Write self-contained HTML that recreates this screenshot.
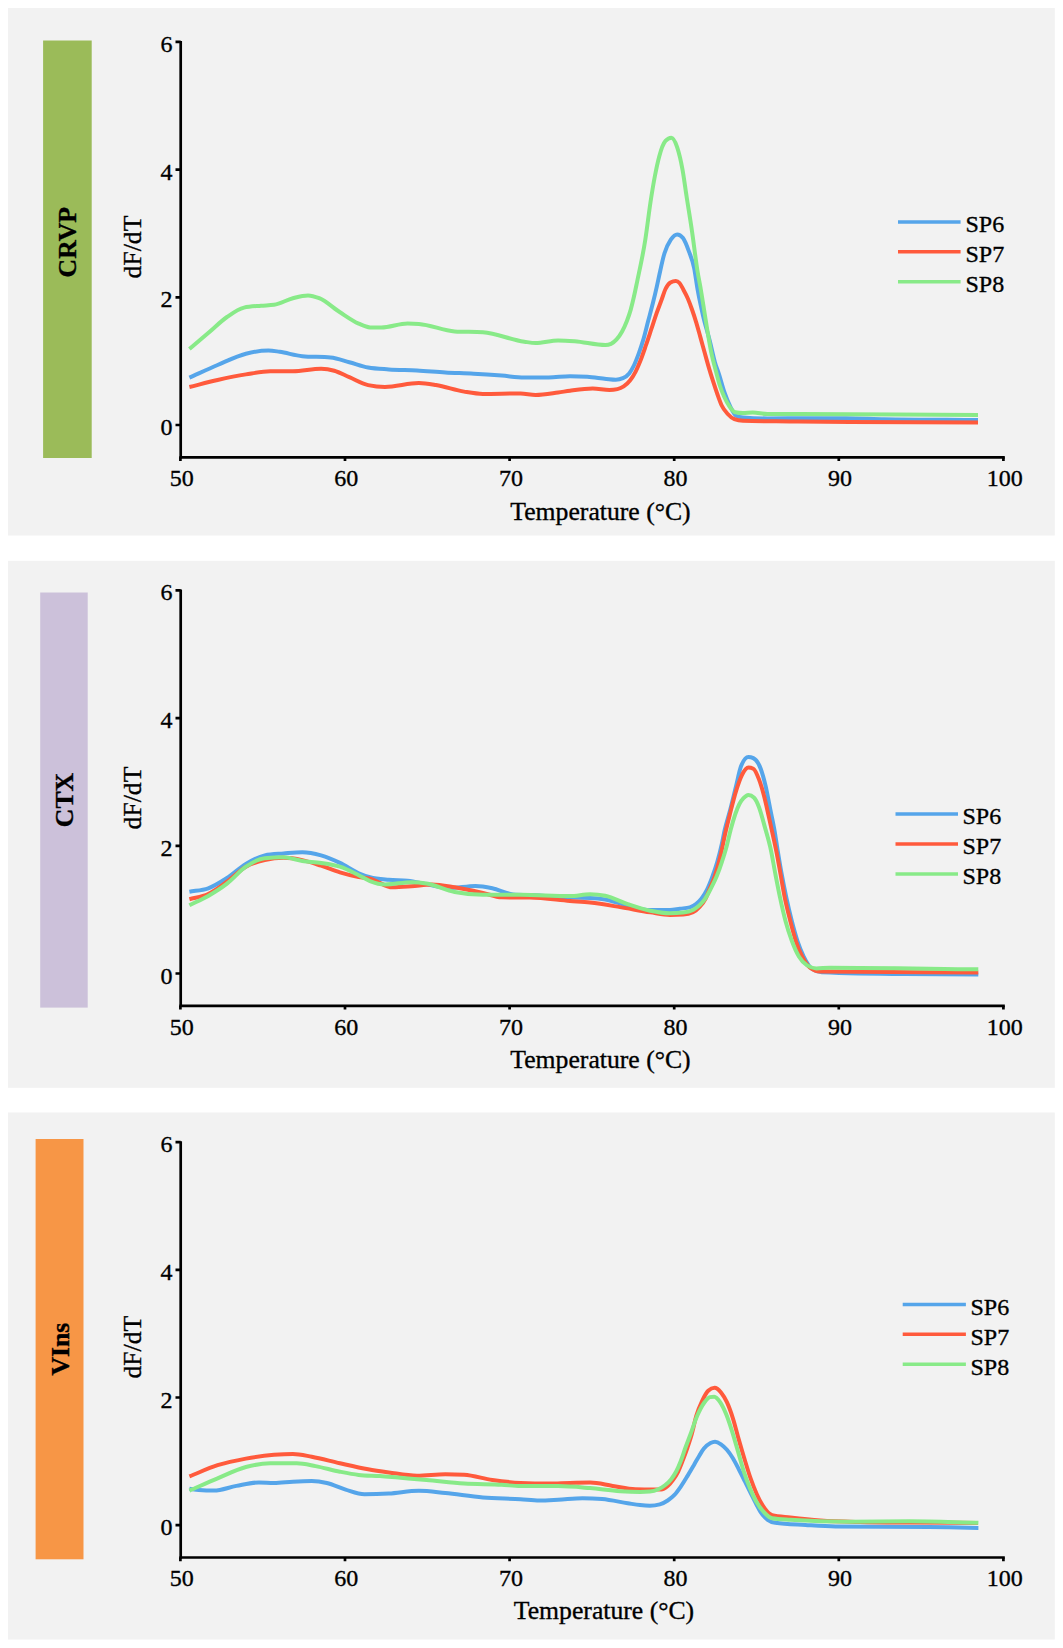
<!DOCTYPE html>
<html><head><meta charset="utf-8"><style>
html,body{margin:0;padding:0;background:#fff;width:1063px;height:1648px;overflow:hidden}
svg{display:block}
text{stroke:#000;stroke-width:0.35px}
</style></head><body>
<svg width="1063" height="1648" viewBox="0 0 1063 1648" font-family="&quot;Liberation Serif&quot;, serif" fill="#000" stroke-width="0">
<rect x="8" y="8" width="1046.8" height="527.5" fill="#F2F2F2"/>
<rect x="43.1" y="40.5" width="48.6" height="417.5" fill="#9BBB59"/>
<text transform="translate(76.4 242.2) rotate(-90)" text-anchor="middle" font-weight="bold" font-size="25.7">CRVP</text>
<path d="M180.7 41.0 V458.6" stroke="#000" stroke-width="2.7" fill="none"/>
<path d="M179.4 457.3 H1004.8" stroke="#000" stroke-width="2.7" fill="none"/>
<text x="172.5" y="435.0" text-anchor="end" font-size="24">0</text>
<text x="172.5" y="307.3" text-anchor="end" font-size="24">2</text>
<text x="172.5" y="179.6" text-anchor="end" font-size="24">4</text>
<text x="172.5" y="51.9" text-anchor="end" font-size="24">6</text>
<text x="181.7" y="486.2" text-anchor="middle" font-size="24">50</text>
<text x="346.3" y="486.2" text-anchor="middle" font-size="24">60</text>
<text x="510.9" y="486.2" text-anchor="middle" font-size="24">70</text>
<text x="675.5" y="486.2" text-anchor="middle" font-size="24">80</text>
<text x="840.1" y="486.2" text-anchor="middle" font-size="24">90</text>
<text x="1004.7" y="486.2" text-anchor="middle" font-size="24">100</text>
<path d="M175.5 425.0 H180.7 M175.5 297.3 H180.7 M175.5 169.6 H180.7 M175.5 41.9 H180.7 M180.4 457.3 V461.0 M345.0 457.3 V461.0 M509.6 457.3 V461.0 M674.2 457.3 V461.0 M838.8 457.3 V461.0 M1003.4 457.3 V461.0 " stroke="#000" stroke-width="2.7" fill="none"/>
<text transform="translate(141 247.0) rotate(-90)" text-anchor="middle" font-size="25.7">dF/dT</text>
<text x="600.5" y="519.5" text-anchor="middle" font-size="25.7">Temperature (°C)</text>
<path d="M189.40 377.60 C198.80 373.40 208.20 368.98 217.60 365.00 C227.03 361.01 236.47 356.12 245.90 353.70 C253.40 351.78 260.90 350.50 268.40 350.50 C272.17 350.50 275.93 351.27 279.70 351.80 C287.23 352.87 294.77 355.51 302.30 356.20 C311.70 357.07 321.10 356.63 330.50 357.50 C336.77 358.08 343.03 360.53 349.30 362.20 C355.57 363.87 361.83 366.35 368.10 367.50 C375.00 368.77 381.90 368.92 388.80 369.40 C398.20 370.05 407.60 370.00 417.00 370.50 C426.43 371.00 435.87 371.87 445.30 372.40 C454.70 372.93 464.10 373.17 473.50 373.70 C482.90 374.23 492.30 374.88 501.70 375.60 C509.23 376.18 516.77 377.50 524.30 377.50 C532.43 377.50 540.57 377.50 548.70 377.50 C555.80 377.50 562.90 376.20 570.00 376.20 C575.77 376.20 581.53 376.37 587.30 376.70 C593.63 377.07 599.97 378.30 606.30 378.90 C609.47 379.20 612.63 379.70 615.80 379.70 C618.17 379.70 620.53 379.17 622.90 378.10 C625.00 377.15 627.10 376.09 629.20 373.40 C630.77 371.39 632.33 368.75 633.90 365.50 C635.50 362.18 637.10 358.00 638.70 353.60 C640.27 349.29 641.83 344.78 643.40 339.40 C644.97 334.02 646.53 327.29 648.10 321.30 C649.70 315.19 651.30 309.55 652.90 303.10 C654.20 297.86 655.50 292.41 656.80 286.60 C657.57 283.17 658.33 279.45 659.10 276.00 C660.87 268.05 662.63 259.33 664.40 253.50 C666.53 246.46 668.67 242.88 670.80 239.70 C672.93 236.52 675.07 234.40 677.20 234.40 C679.13 234.40 681.07 235.63 683.00 238.10 C684.97 240.61 686.93 245.98 688.90 251.40 C690.67 256.27 692.43 259.43 694.20 268.40 C695.30 273.99 696.40 282.72 697.50 289.00 C699.33 299.47 701.17 307.54 703.00 315.50 C705.27 325.34 707.53 331.97 709.80 341.00 C711.50 347.77 713.20 356.24 714.90 362.20 C716.33 367.22 717.77 370.42 719.20 374.90 C720.90 380.22 722.60 386.94 724.30 391.90 C726.27 397.64 728.23 402.33 730.20 406.30 C732.17 410.27 734.13 414.73 736.10 415.70 C738.40 416.83 740.70 417.21 743.00 417.40 C751.13 418.07 759.27 418.40 767.40 418.40 C781.20 418.40 795.00 418.20 808.80 418.20 C821.33 418.20 833.87 418.20 846.40 418.20 C858.93 418.20 871.47 418.96 884.00 419.20 C915.33 419.80 946.67 419.80 978.00 420.10" stroke="#55A5EA" stroke-width="4.0" fill="none" stroke-linejoin="round"/>
<path d="M189.40 387.00 C198.80 384.67 208.20 382.10 217.60 380.00 C227.03 377.90 236.47 375.93 245.90 374.40 C254.03 373.08 262.17 371.20 270.30 371.20 C277.83 371.20 285.37 371.20 292.90 371.20 C302.30 371.20 311.70 368.80 321.10 368.80 C325.50 368.80 329.90 369.47 334.30 370.70 C339.30 372.10 344.30 375.06 349.30 377.20 C355.57 379.88 361.83 383.77 368.10 385.10 C373.73 386.30 379.37 386.90 385.00 386.90 C396.30 386.90 407.60 383.10 418.90 383.10 C424.57 383.10 430.23 384.11 435.90 385.00 C445.30 386.48 454.70 390.03 464.10 391.60 C470.37 392.65 476.63 393.90 482.90 393.90 C495.43 393.90 507.97 393.50 520.50 393.50 C525.53 393.50 530.57 395.00 535.60 395.00 C543.10 395.00 550.60 393.53 558.10 392.50 C562.07 391.96 566.03 391.23 570.00 390.70 C577.60 389.69 585.20 388.50 592.80 388.50 C598.37 388.50 603.93 389.90 609.50 389.90 C612.13 389.90 614.77 389.63 617.40 389.10 C619.50 388.67 621.60 387.83 623.70 386.40 C625.80 384.97 627.90 383.19 630.00 380.50 C631.83 378.15 633.67 375.35 635.50 371.80 C637.33 368.25 639.17 363.91 641.00 359.20 C642.60 355.09 644.20 350.34 645.80 345.70 C647.63 340.38 649.47 334.72 651.30 329.20 C653.13 323.68 654.97 317.80 656.80 312.60 C658.37 308.16 659.93 304.26 661.50 300.00 C662.83 296.38 664.17 291.82 665.50 289.00 C667.17 285.48 668.83 283.34 670.50 282.40 C672.27 281.40 674.03 280.90 675.80 280.90 C677.03 280.90 678.27 281.60 679.50 283.00 C680.77 284.43 682.03 287.18 683.30 289.50 C684.77 292.19 686.23 294.82 687.70 298.20 C689.13 301.51 690.57 305.43 692.00 309.50 C693.40 313.48 694.80 317.68 696.20 322.30 C697.63 327.03 699.07 332.46 700.50 337.60 C701.90 342.62 703.30 347.78 704.70 352.80 C706.13 357.94 707.57 363.23 709.00 368.10 C710.40 372.85 711.80 377.35 713.20 381.70 C714.63 386.16 716.07 390.49 717.50 394.50 C718.90 398.41 720.30 402.53 721.70 405.50 C723.70 409.75 725.70 411.79 727.70 414.00 C729.93 416.47 732.17 418.22 734.40 419.10 C737.27 420.23 740.13 420.73 743.00 420.80 C758.67 421.20 774.33 421.22 790.00 421.40 C810.00 421.63 830.00 421.88 850.00 422.00 C892.67 422.27 935.33 422.27 978.00 422.40" stroke="#FF5A3C" stroke-width="4.0" fill="none" stroke-linejoin="round"/>
<path d="M189.40 349.00 C195.67 343.67 201.93 338.33 208.20 333.00 C214.47 327.67 220.73 321.35 227.00 317.00 C232.67 313.06 238.33 308.87 244.00 307.60 C249.67 306.33 255.33 306.20 261.00 305.70 C265.33 305.32 269.67 305.40 274.00 304.80 C280.30 303.93 286.60 299.83 292.90 298.20 C297.93 296.90 302.97 295.40 308.00 295.40 C311.73 295.40 315.47 296.71 319.20 298.20 C326.13 300.97 333.07 307.87 340.00 312.30 C346.23 316.28 352.47 320.87 358.70 323.60 C362.47 325.25 366.23 327.27 370.00 327.40 C373.77 327.53 377.53 327.60 381.30 327.60 C390.07 327.60 398.83 323.50 407.60 323.50 C411.37 323.50 415.13 323.63 418.90 323.90 C430.83 324.74 442.77 330.64 454.70 331.40 C464.10 332.00 473.50 331.70 482.90 332.30 C496.70 333.18 510.50 339.78 524.30 341.70 C528.07 342.22 531.83 343.00 535.60 343.00 C543.10 343.00 550.60 340.40 558.10 340.40 C563.60 340.40 569.10 340.79 574.60 341.20 C584.90 341.97 595.20 345.00 605.50 345.00 C607.33 345.00 609.17 344.60 611.00 343.80 C612.87 342.99 614.73 341.48 616.60 339.40 C618.43 337.36 620.27 334.86 622.10 331.50 C623.67 328.63 625.23 325.38 626.80 321.30 C628.13 317.83 629.47 314.19 630.80 309.40 C631.83 305.69 632.87 301.32 633.90 296.80 C634.97 292.14 636.03 286.93 637.10 281.80 C639.83 268.64 642.57 257.18 645.30 239.70 C647.07 228.40 648.83 212.99 650.60 201.50 C652.03 192.18 653.47 183.50 654.90 176.00 C656.30 168.68 657.70 162.13 659.10 156.90 C661.23 148.93 663.37 143.25 665.50 140.90 C667.43 138.77 669.37 137.70 671.30 137.70 C673.27 137.70 675.23 141.43 677.20 147.30 C678.97 152.58 680.73 159.84 682.50 169.60 C683.90 177.34 685.30 188.10 686.70 197.20 C688.47 208.69 690.23 219.11 692.00 231.20 C693.80 243.52 695.60 259.26 697.40 270.50 C698.57 277.78 699.73 283.11 700.90 290.00 C702.03 296.70 703.17 304.12 704.30 311.20 C705.43 318.28 706.57 325.77 707.70 332.50 C708.97 340.03 710.23 347.60 711.50 353.70 C712.93 360.60 714.37 365.26 715.80 370.70 C717.20 376.01 718.60 381.65 720.00 386.00 C721.43 390.45 722.87 393.81 724.30 397.00 C726.00 400.78 727.70 403.84 729.40 406.30 C731.37 409.15 733.33 411.89 735.30 412.30 C737.87 412.83 740.43 413.10 743.00 413.10 C746.27 413.10 749.53 412.60 752.80 412.60 C757.67 412.60 762.53 414.10 767.40 414.10 C778.27 414.10 789.13 414.10 800.00 414.10 C859.33 414.10 918.67 414.70 978.00 415.00" stroke="#88EA88" stroke-width="4.0" fill="none" stroke-linejoin="round"/>
<path d="M898.0 221.9 H960.6" stroke="#55A5EA" stroke-width="3.5"/>
<text x="965.5" y="232.2" font-size="24">SP6</text>
<path d="M898.0 251.8 H960.6" stroke="#FF5A3C" stroke-width="3.5"/>
<text x="965.5" y="262.1" font-size="24">SP7</text>
<path d="M898.0 281.7 H960.6" stroke="#88EA88" stroke-width="3.5"/>
<text x="965.5" y="292.0" font-size="24">SP8</text>
<rect x="8" y="560.8" width="1046.8" height="527" fill="#F2F2F2"/>
<rect x="40.2" y="592.5" width="47.5" height="415.1" fill="#CCC1DA"/>
<text transform="translate(73.0 800.0) rotate(-90)" text-anchor="middle" font-weight="bold" font-size="25.7">CTX</text>
<path d="M180.7 589.5 V1007.1" stroke="#000" stroke-width="2.7" fill="none"/>
<path d="M179.4 1005.8 H1004.8" stroke="#000" stroke-width="2.7" fill="none"/>
<text x="172.5" y="983.5" text-anchor="end" font-size="24">0</text>
<text x="172.5" y="855.8" text-anchor="end" font-size="24">2</text>
<text x="172.5" y="728.1" text-anchor="end" font-size="24">4</text>
<text x="172.5" y="600.4" text-anchor="end" font-size="24">6</text>
<text x="181.7" y="1034.7" text-anchor="middle" font-size="24">50</text>
<text x="346.3" y="1034.7" text-anchor="middle" font-size="24">60</text>
<text x="510.9" y="1034.7" text-anchor="middle" font-size="24">70</text>
<text x="675.5" y="1034.7" text-anchor="middle" font-size="24">80</text>
<text x="840.1" y="1034.7" text-anchor="middle" font-size="24">90</text>
<text x="1004.7" y="1034.7" text-anchor="middle" font-size="24">100</text>
<path d="M175.5 973.5 H180.7 M175.5 845.8 H180.7 M175.5 718.1 H180.7 M175.5 590.4 H180.7 M180.4 1005.8 V1009.5 M345.0 1005.8 V1009.5 M509.6 1005.8 V1009.5 M674.2 1005.8 V1009.5 M838.8 1005.8 V1009.5 M1003.4 1005.8 V1009.5 " stroke="#000" stroke-width="2.7" fill="none"/>
<text transform="translate(141 798.0) rotate(-90)" text-anchor="middle" font-size="25.7">dF/dT</text>
<text x="600.5" y="1068.0" text-anchor="middle" font-size="25.7">Temperature (°C)</text>
<path d="M189.40 891.70 C195.67 890.57 201.93 890.57 208.20 888.30 C214.47 886.03 220.73 882.05 227.00 878.00 C233.30 873.93 239.60 867.67 245.90 863.90 C252.17 860.15 258.43 856.67 264.70 855.40 C270.97 854.13 277.23 854.03 283.50 853.50 C289.77 852.97 296.03 852.20 302.30 852.20 C308.57 852.20 314.83 853.62 321.10 855.40 C327.37 857.18 333.63 859.92 339.90 862.90 C346.17 865.88 352.43 870.61 358.70 873.30 C362.47 874.92 366.23 876.30 370.00 877.30 C376.27 878.97 382.53 879.23 388.80 879.80 C395.07 880.37 401.33 880.10 407.60 880.70 C413.87 881.30 420.13 882.97 426.40 884.10 C433.93 885.46 441.47 888.20 449.00 888.20 C457.80 888.20 466.60 886.00 475.40 886.00 C481.03 886.00 486.67 887.04 492.30 888.20 C499.20 889.62 506.10 893.88 513.00 894.40 C521.77 895.07 530.53 894.93 539.30 895.40 C549.53 895.95 559.77 897.19 570.00 897.60 C576.70 897.87 583.40 897.73 590.10 898.00 C595.13 898.20 600.17 898.65 605.20 899.50 C612.70 900.76 620.20 903.84 627.70 905.60 C635.23 907.37 642.77 910.10 650.30 910.10 C656.87 910.10 663.43 910.07 670.00 910.00 C673.30 909.97 676.60 909.13 679.90 908.70 C683.20 908.27 686.50 908.27 689.80 907.40 C691.97 906.83 694.13 905.53 696.30 903.80 C698.07 902.39 699.83 900.82 701.60 898.50 C703.37 896.18 705.13 893.46 706.90 889.90 C708.63 886.40 710.37 882.06 712.10 877.40 C713.87 872.65 715.63 867.83 717.40 861.60 C718.93 856.19 720.47 850.19 722.00 843.20 C722.90 839.10 723.80 834.00 724.70 830.00 C726.33 822.73 727.97 818.32 729.60 812.10 C731.77 803.85 733.93 794.71 736.10 786.00 C737.73 779.44 739.37 770.45 741.00 766.30 C743.47 760.03 745.93 756.90 748.40 756.90 C750.03 756.90 751.67 757.30 753.30 758.10 C755.77 759.31 758.23 762.05 760.70 768.70 C762.33 773.10 763.97 779.03 765.60 786.00 C767.23 792.97 768.87 802.33 770.50 810.50 C771.87 817.33 773.23 823.11 774.60 831.00 C775.60 836.77 776.60 843.84 777.60 850.00 C778.93 858.21 780.27 866.34 781.60 873.70 C783.17 882.35 784.73 890.04 786.30 897.40 C788.13 906.01 789.97 913.82 791.80 921.00 C793.67 928.31 795.53 935.12 797.40 940.80 C799.50 947.19 801.60 952.18 803.70 956.50 C806.60 962.47 809.50 967.29 812.40 969.20 C815.53 971.27 818.67 972.16 821.80 972.30 C849.53 973.50 877.27 973.87 905.00 974.10 C929.43 974.30 953.87 974.30 978.30 974.40" stroke="#55A5EA" stroke-width="4.0" fill="none" stroke-linejoin="round"/>
<path d="M189.40 899.20 C195.67 897.47 201.93 896.92 208.20 894.00 C214.47 891.08 220.73 886.24 227.00 881.70 C233.30 877.14 239.60 870.30 245.90 866.70 C252.17 863.12 258.43 861.58 264.70 860.10 C270.97 858.62 277.23 857.80 283.50 857.80 C289.77 857.80 296.03 858.78 302.30 860.10 C308.57 861.42 314.83 863.67 321.10 865.70 C327.37 867.73 333.63 870.42 339.90 872.30 C346.17 874.18 352.43 875.79 358.70 877.00 C362.47 877.73 366.23 877.93 370.00 878.80 C377.53 880.54 385.07 887.30 392.60 887.30 C398.87 887.30 405.13 886.73 411.40 886.30 C418.30 885.82 425.20 884.50 432.10 884.50 C439.63 884.50 447.17 886.12 454.70 887.30 C464.10 888.78 473.50 890.83 482.90 892.90 C489.17 894.28 495.43 897.17 501.70 897.30 C511.10 897.50 520.50 897.40 529.90 897.60 C543.27 897.88 556.63 899.91 570.00 901.00 C576.70 901.54 583.40 901.88 590.10 902.60 C600.13 903.68 610.17 905.48 620.20 907.10 C630.23 908.72 640.27 910.81 650.30 912.30 C656.87 913.27 663.43 914.90 670.00 914.90 C674.40 914.90 678.80 914.80 683.20 914.60 C686.47 914.45 689.73 913.83 693.00 912.30 C695.20 911.27 697.40 909.47 699.60 907.00 C701.60 904.75 703.60 902.48 705.60 898.50 C706.90 895.92 708.20 892.44 709.50 889.30 C711.27 885.03 713.03 881.43 714.80 876.10 C716.53 870.87 718.27 864.70 720.00 857.70 C722.00 849.62 724.00 838.53 726.00 830.00 C727.20 824.88 728.40 820.14 729.60 815.40 C731.77 806.83 733.93 797.87 736.10 790.90 C738.00 784.78 739.90 779.13 741.80 775.30 C744.00 770.86 746.20 767.50 748.40 767.50 C750.03 767.50 751.67 767.90 753.30 768.70 C755.20 769.63 757.10 774.41 759.00 779.40 C760.67 783.77 762.33 789.44 764.00 795.80 C765.63 802.04 767.27 809.87 768.90 817.10 C770.53 824.33 772.17 831.59 773.80 839.20 C774.70 843.39 775.60 847.46 776.50 852.00 C777.83 858.73 779.17 866.62 780.50 874.00 C781.90 881.75 783.30 890.41 784.70 897.40 C786.57 906.71 788.43 913.71 790.30 921.00 C792.13 928.16 793.97 935.15 795.80 940.80 C797.90 947.28 800.00 952.28 802.10 956.50 C804.73 961.79 807.37 965.59 810.00 967.60 C813.40 970.20 816.80 971.45 820.20 971.50 C872.90 972.23 925.60 972.23 978.30 972.60" stroke="#FF5A3C" stroke-width="4.0" fill="none" stroke-linejoin="round"/>
<path d="M189.40 905.30 C195.67 902.17 201.93 899.52 208.20 895.90 C214.47 892.28 220.73 888.45 227.00 883.60 C233.30 878.72 239.60 870.94 245.90 866.70 C252.17 862.49 258.43 858.80 264.70 858.20 C270.97 857.60 277.23 857.30 283.50 857.30 C289.77 857.30 296.03 860.07 302.30 861.00 C308.57 861.93 314.83 861.95 321.10 862.90 C327.37 863.85 333.63 864.65 339.90 866.70 C346.17 868.75 352.43 872.09 358.70 875.20 C362.47 877.07 366.23 879.61 370.00 881.10 C375.00 883.08 380.00 884.50 385.00 884.50 C393.80 884.50 402.60 882.20 411.40 882.20 C416.40 882.20 421.40 882.70 426.40 883.50 C435.83 885.02 445.27 890.13 454.70 892.00 C464.10 893.87 473.50 894.80 482.90 894.80 C495.43 894.80 507.97 894.80 520.50 894.80 C537.00 894.80 553.50 896.10 570.00 896.10 C576.70 896.10 583.40 894.30 590.10 894.30 C595.13 894.30 600.17 894.80 605.20 895.80 C612.70 897.29 620.20 901.60 627.70 904.10 C635.23 906.61 642.77 909.25 650.30 910.80 C656.87 912.15 663.43 913.30 670.00 913.30 C674.40 913.30 678.80 913.07 683.20 912.60 C686.47 912.25 689.73 911.73 693.00 910.00 C695.20 908.83 697.40 907.21 699.60 905.10 C701.37 903.41 703.13 901.64 704.90 899.10 C706.87 896.27 708.83 892.40 710.80 888.60 C712.80 884.74 714.80 881.02 716.80 876.10 C718.53 871.83 720.27 866.89 722.00 861.60 C723.53 856.92 725.07 852.22 726.60 846.50 C727.93 841.52 729.27 835.01 730.60 830.00 C733.53 818.97 736.47 809.59 739.40 804.00 C740.77 801.40 742.13 799.66 743.50 798.20 C745.13 796.46 746.77 795.00 748.40 795.00 C750.30 795.00 752.20 795.93 754.10 797.80 C755.73 799.40 757.37 802.96 759.00 807.20 C760.93 812.22 762.87 819.97 764.80 826.90 C766.83 834.19 768.87 840.41 770.90 850.00 C772.37 856.92 773.83 866.04 775.30 873.70 C776.87 881.88 778.43 890.04 780.00 897.40 C781.83 906.01 783.67 914.11 785.50 921.00 C787.60 928.89 789.70 935.12 791.80 940.80 C794.17 947.20 796.53 952.51 798.90 956.50 C801.53 960.94 804.17 963.43 806.80 965.20 C809.97 967.33 813.13 968.40 816.30 968.40 C820.87 968.40 825.43 967.80 830.00 967.80 C879.43 967.80 928.87 968.80 978.30 969.30" stroke="#88EA88" stroke-width="4.0" fill="none" stroke-linejoin="round"/>
<path d="M895.5 814.1 H958.0" stroke="#55A5EA" stroke-width="3.5"/>
<text x="962.5" y="824.4" font-size="24">SP6</text>
<path d="M895.5 844.0 H958.0" stroke="#FF5A3C" stroke-width="3.5"/>
<text x="962.5" y="854.3" font-size="24">SP7</text>
<path d="M895.5 873.9 H958.0" stroke="#88EA88" stroke-width="3.5"/>
<text x="962.5" y="884.2" font-size="24">SP8</text>
<rect x="8" y="1112.5" width="1046.8" height="527" fill="#F2F2F2"/>
<rect x="35.6" y="1139" width="47.9" height="420.3" fill="#F79646"/>
<text transform="translate(68.5 1349.2) rotate(-90)" text-anchor="middle" font-weight="bold" font-size="25.7">VIns</text>
<path d="M180.7 1141.2 V1558.8" stroke="#000" stroke-width="2.7" fill="none"/>
<path d="M179.4 1557.5 H1004.8" stroke="#000" stroke-width="2.7" fill="none"/>
<text x="172.5" y="1535.2" text-anchor="end" font-size="24">0</text>
<text x="172.5" y="1407.5" text-anchor="end" font-size="24">2</text>
<text x="172.5" y="1279.8" text-anchor="end" font-size="24">4</text>
<text x="172.5" y="1152.1" text-anchor="end" font-size="24">6</text>
<text x="181.7" y="1586.4" text-anchor="middle" font-size="24">50</text>
<text x="346.3" y="1586.4" text-anchor="middle" font-size="24">60</text>
<text x="510.9" y="1586.4" text-anchor="middle" font-size="24">70</text>
<text x="675.5" y="1586.4" text-anchor="middle" font-size="24">80</text>
<text x="840.1" y="1586.4" text-anchor="middle" font-size="24">90</text>
<text x="1004.7" y="1586.4" text-anchor="middle" font-size="24">100</text>
<path d="M175.5 1525.2 H180.7 M175.5 1397.5 H180.7 M175.5 1269.8 H180.7 M175.5 1142.1 H180.7 M180.4 1557.5 V1561.2 M345.0 1557.5 V1561.2 M509.6 1557.5 V1561.2 M674.2 1557.5 V1561.2 M838.8 1557.5 V1561.2 M1003.4 1557.5 V1561.2 " stroke="#000" stroke-width="2.7" fill="none"/>
<text transform="translate(141 1347.2) rotate(-90)" text-anchor="middle" font-size="25.7">dF/dT</text>
<text x="604.0" y="1619.2" text-anchor="middle" font-size="25.7">Temperature (°C)</text>
<path d="M189.40 1488.70 C192.53 1489.13 195.67 1489.75 198.80 1490.00 C203.83 1490.40 208.87 1490.60 213.90 1490.60 C221.40 1490.60 228.90 1487.25 236.40 1485.90 C243.93 1484.55 251.47 1482.50 259.00 1482.50 C264.00 1482.50 269.00 1483.00 274.00 1483.00 C280.30 1483.00 286.60 1482.02 292.90 1481.70 C299.17 1481.38 305.43 1481.10 311.70 1481.10 C316.73 1481.10 321.77 1481.86 326.80 1483.00 C333.07 1484.42 339.33 1487.72 345.60 1489.60 C351.87 1491.48 358.13 1494.30 364.40 1494.30 C372.53 1494.30 380.67 1494.07 388.80 1493.60 C398.83 1493.02 408.87 1490.80 418.90 1490.80 C427.70 1490.80 436.50 1492.23 445.30 1493.10 C457.83 1494.33 470.37 1496.37 482.90 1497.40 C495.43 1498.43 507.97 1498.51 520.50 1499.30 C526.77 1499.69 533.03 1500.60 539.30 1500.60 C545.57 1500.60 551.83 1500.13 558.10 1499.80 C566.27 1499.37 574.43 1498.20 582.60 1498.20 C589.10 1498.20 595.60 1498.50 602.10 1499.10 C610.63 1499.89 619.17 1501.87 627.70 1503.20 C631.80 1503.84 635.90 1504.68 640.00 1505.10 C643.30 1505.44 646.60 1505.70 649.90 1505.70 C653.20 1505.70 656.50 1505.27 659.80 1504.40 C662.43 1503.71 665.07 1502.26 667.70 1500.50 C669.87 1499.05 672.03 1497.49 674.20 1495.20 C676.40 1492.87 678.60 1489.78 680.80 1486.60 C683.00 1483.42 685.20 1479.72 687.40 1476.10 C689.60 1472.48 691.80 1468.68 694.00 1464.90 C695.77 1461.86 697.53 1458.58 699.30 1455.70 C700.83 1453.20 702.37 1450.53 703.90 1448.60 C706.10 1445.83 708.30 1444.13 710.50 1443.00 C712.00 1442.23 713.50 1441.70 715.00 1441.70 C717.00 1441.70 719.00 1442.93 721.00 1444.30 C722.97 1445.65 724.93 1447.49 726.90 1449.80 C728.90 1452.14 730.90 1455.02 732.90 1458.30 C734.87 1461.53 736.83 1465.52 738.80 1469.30 C740.80 1473.15 742.80 1477.20 744.80 1481.20 C746.77 1485.13 748.73 1489.17 750.70 1493.10 C752.70 1497.10 754.70 1501.21 756.70 1505.00 C757.97 1507.40 759.23 1510.00 760.50 1512.00 C762.90 1515.79 765.30 1518.00 767.70 1519.80 C770.23 1521.70 772.77 1522.43 775.30 1522.80 C785.33 1524.27 795.37 1524.38 805.40 1525.00 C815.43 1525.62 825.47 1526.39 835.50 1526.50 C866.67 1526.83 897.83 1526.67 929.00 1527.00 C945.47 1527.18 961.93 1527.60 978.40 1527.90" stroke="#55A5EA" stroke-width="4.0" fill="none" stroke-linejoin="round"/>
<path d="M189.40 1476.40 C198.80 1472.67 208.20 1468.16 217.60 1465.20 C227.03 1462.23 236.47 1460.34 245.90 1458.60 C255.27 1456.88 264.63 1455.58 274.00 1454.80 C280.30 1454.28 286.60 1453.90 292.90 1453.90 C299.17 1453.90 305.43 1455.55 311.70 1456.70 C321.10 1458.42 330.50 1461.20 339.90 1463.30 C349.30 1465.40 358.70 1467.64 368.10 1469.30 C375.00 1470.52 381.90 1471.46 388.80 1472.40 C398.20 1473.68 407.60 1475.70 417.00 1475.70 C426.43 1475.70 435.87 1474.20 445.30 1474.20 C451.57 1474.20 457.83 1474.40 464.10 1474.80 C473.50 1475.40 482.90 1478.55 492.30 1479.90 C501.70 1481.25 511.10 1482.43 520.50 1482.90 C529.90 1483.37 539.30 1483.60 548.70 1483.60 C555.80 1483.60 562.90 1483.07 570.00 1482.90 C576.70 1482.74 583.40 1482.60 590.10 1482.60 C597.63 1482.60 605.17 1484.80 612.70 1485.90 C620.23 1487.00 627.77 1488.95 635.30 1489.20 C641.30 1489.40 647.30 1489.50 653.30 1489.50 C655.90 1489.50 658.50 1489.50 661.10 1489.50 C663.30 1489.50 665.50 1487.93 667.70 1486.00 C669.43 1484.48 671.17 1482.39 672.90 1480.00 C674.67 1477.57 676.43 1475.12 678.20 1471.50 C679.73 1468.36 681.27 1464.25 682.80 1460.30 C684.33 1456.35 685.87 1452.30 687.40 1447.80 C688.87 1443.50 690.33 1439.26 691.80 1434.00 C693.30 1428.62 694.80 1420.91 696.30 1415.80 C698.30 1408.99 700.30 1404.70 702.30 1400.50 C704.27 1396.37 706.23 1392.54 708.20 1390.70 C710.33 1388.70 712.47 1387.70 714.60 1387.70 C716.73 1387.70 718.87 1389.80 721.00 1392.40 C722.97 1394.79 724.93 1397.94 726.90 1402.20 C728.90 1406.54 730.90 1412.00 732.90 1418.30 C734.87 1424.50 736.83 1432.70 738.80 1439.60 C740.80 1446.61 742.80 1453.43 744.80 1460.00 C746.77 1466.46 748.73 1473.07 750.70 1478.70 C752.70 1484.42 754.70 1489.53 756.70 1494.00 C759.37 1499.96 762.03 1504.93 764.70 1508.50 C767.20 1511.85 769.70 1514.56 772.20 1515.20 C778.23 1516.73 784.27 1516.80 790.30 1517.50 C800.33 1518.67 810.37 1519.77 820.40 1520.50 C833.60 1521.46 846.80 1521.68 860.00 1522.00 C876.43 1522.40 892.87 1522.46 909.30 1522.60 C932.20 1522.80 955.10 1522.80 978.00 1522.90" stroke="#FF5A3C" stroke-width="4.0" fill="none" stroke-linejoin="round"/>
<path d="M189.40 1490.60 C198.80 1486.50 208.20 1482.23 217.60 1478.30 C227.03 1474.36 236.47 1469.51 245.90 1467.00 C254.03 1464.83 262.17 1463.30 270.30 1463.30 C279.10 1463.30 287.90 1463.30 296.70 1463.30 C302.97 1463.30 309.23 1464.95 315.50 1466.10 C323.63 1467.60 331.77 1470.11 339.90 1471.70 C346.17 1472.93 352.43 1474.19 358.70 1474.90 C365.80 1475.70 372.90 1475.60 380.00 1476.10 C386.07 1476.53 392.13 1477.10 398.20 1477.60 C407.60 1478.37 417.00 1479.07 426.40 1479.90 C438.97 1481.01 451.53 1482.80 464.10 1483.60 C476.63 1484.40 489.17 1484.09 501.70 1484.80 C507.97 1485.16 514.23 1486.10 520.50 1486.10 C533.03 1486.10 545.57 1486.10 558.10 1486.10 C568.77 1486.10 579.43 1487.21 590.10 1488.10 C600.13 1488.94 610.17 1490.58 620.20 1491.20 C626.80 1491.61 633.40 1491.90 640.00 1491.90 C643.30 1491.90 646.60 1491.80 649.90 1491.60 C652.73 1491.43 655.57 1490.60 658.40 1489.30 C660.60 1488.29 662.80 1487.07 665.00 1485.30 C667.00 1483.69 669.00 1481.94 671.00 1479.40 C672.73 1477.20 674.47 1474.84 676.20 1471.50 C677.73 1468.55 679.27 1464.95 680.80 1461.00 C682.33 1457.05 683.87 1452.05 685.40 1447.80 C687.07 1443.18 688.73 1439.00 690.40 1434.50 C692.67 1428.38 694.93 1421.05 697.20 1415.80 C699.47 1410.55 701.73 1406.20 704.00 1403.00 C705.97 1400.23 707.93 1397.47 709.90 1397.10 C711.33 1396.83 712.77 1396.70 714.20 1396.70 C716.17 1396.70 718.13 1399.34 720.10 1402.20 C722.10 1405.11 724.10 1409.23 726.10 1414.10 C728.07 1418.89 730.03 1424.93 732.00 1431.10 C734.00 1437.38 736.00 1444.64 738.00 1451.50 C739.97 1458.24 741.93 1465.85 743.90 1471.90 C745.90 1478.05 747.90 1483.15 749.90 1488.00 C751.87 1492.77 753.83 1497.16 755.80 1500.80 C758.77 1506.29 761.73 1510.00 764.70 1513.00 C767.20 1515.53 769.70 1517.89 772.20 1518.30 C778.23 1519.30 784.27 1519.42 790.30 1519.80 C810.20 1521.07 830.10 1521.70 850.00 1521.70 C869.77 1521.70 889.53 1521.30 909.30 1521.30 C932.33 1521.30 955.37 1522.23 978.40 1522.70" stroke="#88EA88" stroke-width="4.0" fill="none" stroke-linejoin="round"/>
<path d="M902.7 1304.4 H965.9" stroke="#55A5EA" stroke-width="3.5"/>
<text x="970.5" y="1314.7" font-size="24">SP6</text>
<path d="M902.7 1334.3 H965.9" stroke="#FF5A3C" stroke-width="3.5"/>
<text x="970.5" y="1344.6" font-size="24">SP7</text>
<path d="M902.7 1364.2 H965.9" stroke="#88EA88" stroke-width="3.5"/>
<text x="970.5" y="1374.5" font-size="24">SP8</text>
</svg></body></html>
